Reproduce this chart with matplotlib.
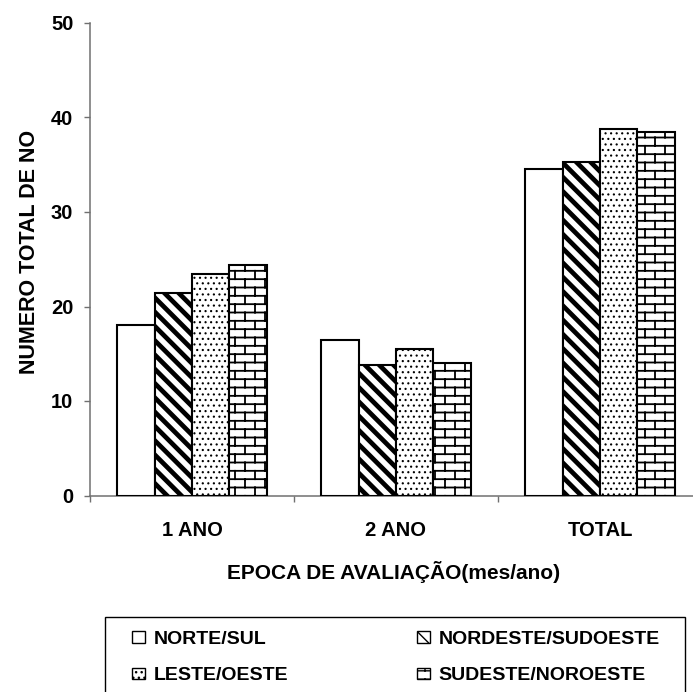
import warnings
import numpy as np
import matplotlib
matplotlib.use("Agg")
import matplotlib.pyplot as plt
import matplotlib.hatch as mhatch
from matplotlib.path import Path
from matplotlib.patches import Rectangle

warnings.filterwarnings("ignore")

plt.rcParams['font.family'] = ['Liberation Sans', 'DejaVu Sans']
plt.rcParams['font.weight'] = 'bold'

categories = ["1 ANO", "2 ANO", "TOTAL"]
series_names = ["NORTE/SUL", "NORDESTE/SUDOESTE", "LESTE/OESTE", "SUDESTE/NOROESTE"]
norte_sul = [18.0, 16.5, 34.6]
nordeste_sudoeste = [21.4, 13.8, 35.3]
leste_oeste = [23.4, 15.5, 38.8]
sudeste_noroeste = [24.4, 14.0, 38.5]
yticks = [0, 10, 20, 30, 40, 50]


class StripeHatch(mhatch.HatchPatternBase):
    # 'S': wide "\" stripes, 7 per hatch cell
    n = 7

    def __init__(self, hatch, density):
        self.num_lines = (2 * self.n + 3) if 'S' in hatch else 0
        self.num_vertices = self.num_lines * 2

    def set_vertices_and_codes(self, vertices, codes):
        c = np.arange(-1, 2 * self.n + 2) / self.n
        vertices[0::2, 0] = c - 1.5
        vertices[0::2, 1] = 1.5
        vertices[1::2, 0] = c + 1.5
        vertices[1::2, 1] = -1.5
        codes[0::2] = Path.MOVETO
        codes[1::2] = Path.LINETO


class BrickHatch(mhatch.HatchPatternBase):
    # 'B': brick courses, every other course shifted half a brick
    rows = 12
    bricks = 5

    def __init__(self, hatch, density):
        on = 'B' in hatch
        self.num_vertices = (self.rows * 2 + (self.rows + 1) * self.bricks * 2) if on else 0

    def set_vertices_and_codes(self, vertices, codes):
        i = 0
        for r in range(self.rows):
            y = (r + 0.5) / self.rows
            vertices[i] = (0.0, y)
            vertices[i + 1] = (1.0, y)
            i += 2
        for r in range(self.rows + 1):
            y0 = (r - 0.5) / self.rows
            y1 = (r + 0.5) / self.rows
            for k in range(self.bricks):
                x = (k + 0.25 + 0.5 * (r % 2)) / self.bricks
                vertices[i] = (x, y0)
                vertices[i + 1] = (x, y1)
                i += 2
        codes[0::2] = Path.MOVETO
        codes[1::2] = Path.LINETO


mhatch._hatch_types.extend([StripeHatch, BrickHatch])

values = [norte_sul, nordeste_sudoeste, leste_oeste, sudeste_noroeste]
hatches = [None, 'S', '...', 'B']
hatch_lw = [1.0, 3.4, 0.8, 1.3]

fig = plt.figure(figsize=(6.93, 6.92), dpi=100)
ax = fig.add_axes([90 / 693, 1 - 495.5 / 692, 612 / 693, 472.5 / 692])

x = np.arange(len(categories))
width = 0.1826
handles = []
for i, (name, vals, h, lw) in enumerate(zip(series_names, values, hatches, hatch_lw)):
    with plt.rc_context({'hatch.linewidth': lw}):
        bars = ax.bar(x + (i - 1.5) * width, vals, width, color='white',
                      edgecolor='black', linewidth=1.5, hatch=h, label=name,
                      zorder=3)
        handle = Rectangle((0, 0), 1, 1, facecolor='white', edgecolor='black',
                           linewidth=1.0, hatch=h)
    for b in bars:
        if hasattr(b, 'set_hatch_linewidth'):
            b.set_hatch_linewidth(lw)
    if hasattr(handle, 'set_hatch_linewidth'):
        handle.set_hatch_linewidth(min(lw, 2.0))
    handles.append(handle)

ax.set_xlim(-0.5, 2.5)
ax.set_ylim(0, 50)
ax.set_yticks(yticks)
ax.set_xticks(x)
ax.set_xticklabels(categories)
ax.set_xticks([-0.5, 0.5, 1.5, 2.5], minor=True)

for s in ['top', 'right']:
    ax.spines[s].set_visible(False)
for s in ['left', 'bottom']:
    ax.spines[s].set_color('#707070')
    ax.spines[s].set_linewidth(1.1)

ax.tick_params(axis='y', direction='out', length=4, width=1, color='#707070',
               labelsize=14.5, pad=8)
ax.tick_params(axis='x', which='major', length=0, labelsize=14.5, pad=18)
ax.tick_params(axis='x', which='minor', direction='out', length=4, width=1,
               color='#707070')

fig.text(30 / 693, 1 - 252 / 692, "NUMERO TOTAL DE NO", rotation=90,
         ha='center', va='center', fontsize=15.5, fontweight='bold')
fig.text(394 / 693, 1 - 572 / 692, "EPOCA DE AVALIAÇÃO(mes/ano)",
         ha='center', va='center', fontsize=15, fontweight='bold')

# legend: row-wise order in two columns
order = [0, 2, 1, 3]
fig.legend([handles[k] for k in order], [series_names[k] for k in order],
           ncol=2, loc='upper left', mode='expand',
           bbox_to_anchor=(132 / 693, 1 - 705 / 692, 528 / 693, 74 / 692),
           frameon=False, borderpad=0, borderaxespad=0,
           handlelength=0.65, handleheight=0.55, handletextpad=0.45,
           labelspacing=1.0, prop={'size': 14, 'weight': 'bold'})
fig.patches.append(Rectangle((105 / 693, -0.01), 580 / 693, 1 - 617 / 692 + 0.01,
                             transform=fig.transFigure, facecolor='none',
                             edgecolor='black', linewidth=1.0))

fig.savefig("out.png", dpi=100)
